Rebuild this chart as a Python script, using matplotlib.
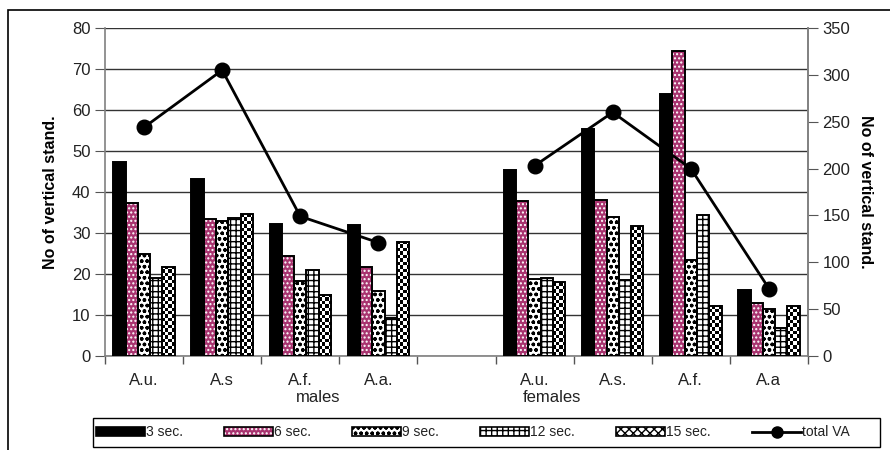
import numpy as np
import matplotlib
matplotlib.use("Agg")
import matplotlib.pyplot as plt
from matplotlib.patches import Rectangle
from matplotlib.lines import Line2D
from matplotlib.legend_handler import HandlerTuple

plt.rcParams['font.family'] = ['Liberation Sans', 'DejaVu Sans']
plt.rcParams['hatch.linewidth'] = 1.0

categories = ["A.u.", "A.s", "A.f.", "A.a.", "", "A.u.", "A.s.", "A.f.", "A.a"]
series_names = ["3 sec.", "6 sec.", "9 sec.", "12 sec.", "15 sec."]
sec3 = [47.4, 43.2, 32.2, 32.0, np.nan, 45.4, 55.3, 63.8, 16.1]
sec6 = [37.4, 33.4, 24.4, 21.8, np.nan, 37.9, 38.1, 74.4, 13.0]
sec9 = [24.8, 33.0, 18.4, 15.8, np.nan, 18.8, 33.8, 23.3, 11.4]
sec12 = [19.0, 33.6, 21.0, 9.2, np.nan, 19.0, 18.5, 34.4, 6.8]
sec15 = [21.8, 34.6, 15.0, 27.9, np.nan, 18.0, 31.7, 12.2, 12.2]
total_va = [244, 305, 149, 121, np.nan, 203, 260, 200, 72]
group_labels = ["males", "females"]

TXT = "#222222"
W, H = 890, 450
fig = plt.figure(figsize=(W / 100, H / 100), dpi=100)
ax = fig.add_axes([105 / W, 1 - 356 / H, 703 / W, 328 / H])
ax.set_xlim(-0.5, len(categories) - 0.5)
ax.set_ylim(0, 80)

x = np.arange(len(categories))
n = len(series_names)
bw = 0.786 / n
styles = [
    dict(face="black", hatch=None, hcol="black", checker=False),
    dict(face="#a8336f", hatch="....", hcol="white", checker=False),
    dict(face="white", hatch="ooo", hcol="black", checker=False),
    dict(face="white", hatch="+++", hcol="black", checker=False),
    dict(face="white", hatch=None, hcol="black", checker=True),
]


def checker_fill(axis, bars, cell_px=3.5):
    """Fill each bar with a black/white checkerboard texture."""
    for r in bars:
        h = r.get_height()
        if not np.isfinite(h) or h <= 0:
            continue
        x0, y0, w = r.get_x(), r.get_y(), r.get_width()
        p0 = axis.transData.transform((x0, y0))
        p1 = axis.transData.transform((x0 + w, y0 + h))
        nx = max(1, int(round((p1[0] - p0[0]) / cell_px)))
        ny = max(1, int(round((p1[1] - p0[1]) / cell_px)))
        arr = np.add.outer(np.arange(ny), np.arange(nx)) % 2
        axis.imshow(arr, cmap="gray", extent=(x0, x0 + w, y0, y0 + h),
                    origin="lower", interpolation="nearest", aspect="auto",
                    zorder=2.5)


all_series = [sec3, sec6, sec9, sec12, sec15]
handles = []
for i, (vals, st) in enumerate(zip(all_series, styles)):
    pos = x + (i - (n - 1) / 2) * bw
    v = np.array(vals, dtype=float)
    bars = ax.bar(pos, v, width=bw, color=st["face"], edgecolor=st["hcol"],
                  hatch=st["hatch"], linewidth=0, zorder=2)
    if st["checker"]:
        checker_fill(ax, bars)
    ax.bar(pos, v, width=bw, fill=False, edgecolor="black", linewidth=1.4, zorder=3)
    fillp = Rectangle((0, 0), 1, 1, facecolor=st["face"], edgecolor=st["hcol"],
                      hatch=st["hatch"] if not st["checker"] else "xxxx",
                      linewidth=0)
    edgep = Rectangle((0, 0), 1, 1, fill=False, edgecolor="black", linewidth=1.2)
    handles.append((fillp, edgep))

ax.set_xlim(-0.5, len(categories) - 0.5)
ax.set_ylim(0, 80)
ax.set_yticks(np.arange(0, 81, 10))
ax.yaxis.grid(True, color="#333333", linewidth=1.0)
ax.set_axisbelow(True)
ax.set_xticks(x)
ax.set_xticklabels(categories, fontsize=12, color=TXT)
ax.set_xticks(np.arange(-0.5, len(categories), 1), minor=True)
ax.tick_params(axis="x", which="major", length=0, pad=12)
ax.tick_params(axis="x", which="minor", length=6, color="#555555", width=1)
ax.tick_params(axis="y", length=7, color="#555555", labelsize=12, labelcolor=TXT)
ax.spines["top"].set_visible(False)
for side in ["left", "bottom", "right"]:
    ax.spines[side].set_color("#808080")
    ax.spines[side].set_linewidth(1.2)
ax.set_ylabel("No of vertical stand.", fontsize=11.5, fontweight="bold", labelpad=10)

ax2 = ax.twinx()
ax2.set_ylim(0, 350)
ax2.set_yticks(np.arange(0, 351, 50))
ax2.tick_params(axis="y", length=7, color="#555555", labelsize=12, labelcolor=TXT)
for side in ["top", "left", "bottom"]:
    ax2.spines[side].set_visible(False)
ax2.spines["right"].set_color("#808080")
ax2.spines["right"].set_linewidth(1.2)
ax2.plot(x, total_va, color="black", linewidth=2, marker="o", markersize=10.5, zorder=5)
ax2.set_ylabel("No of vertical stand.", fontsize=11.5, fontweight="bold",
               rotation=-90, labelpad=16)

trans = ax.get_xaxis_transform()
ax.text(2.23, -0.128, group_labels[0], transform=trans, ha="center", va="center",
        fontsize=12, color=TXT)
ax.text(5.22, -0.128, group_labels[1], transform=trans, ha="center", va="center",
        fontsize=12, color=TXT)

# Legend entries in one row, inside a wider framed box
handles.append(Line2D([0], [0], color="black", linewidth=2, marker="o", markersize=8))
leg = fig.legend(handles, series_names + ["total VA"], loc="center left",
                 bbox_to_anchor=(96 / W, 1 - 447 / H, 754 / W, 29 / H),
                 mode="expand", ncol=6, fontsize=10, frameon=False,
                 handlelength=3.5, handleheight=0.6, handletextpad=0.1,
                 borderaxespad=0, borderpad=0.0,
                 handler_map={tuple: HandlerTuple(ndivide=1, pad=0)})
for t in leg.get_texts():
    t.set_color(TXT)
fig.patches.append(Rectangle((93 / W, 1 - 447 / H), 787 / W, 29 / H,
                             transform=fig.transFigure, fill=False,
                             edgecolor="black", linewidth=1))

# Outer chart-area border
fig.patches.append(Rectangle((8 / W, -0.1), 1.2, 1 - 10 / H + 0.1,
                             transform=fig.transFigure, fill=False,
                             edgecolor="black", linewidth=1.2))

fig.savefig("out.png", dpi=100)
